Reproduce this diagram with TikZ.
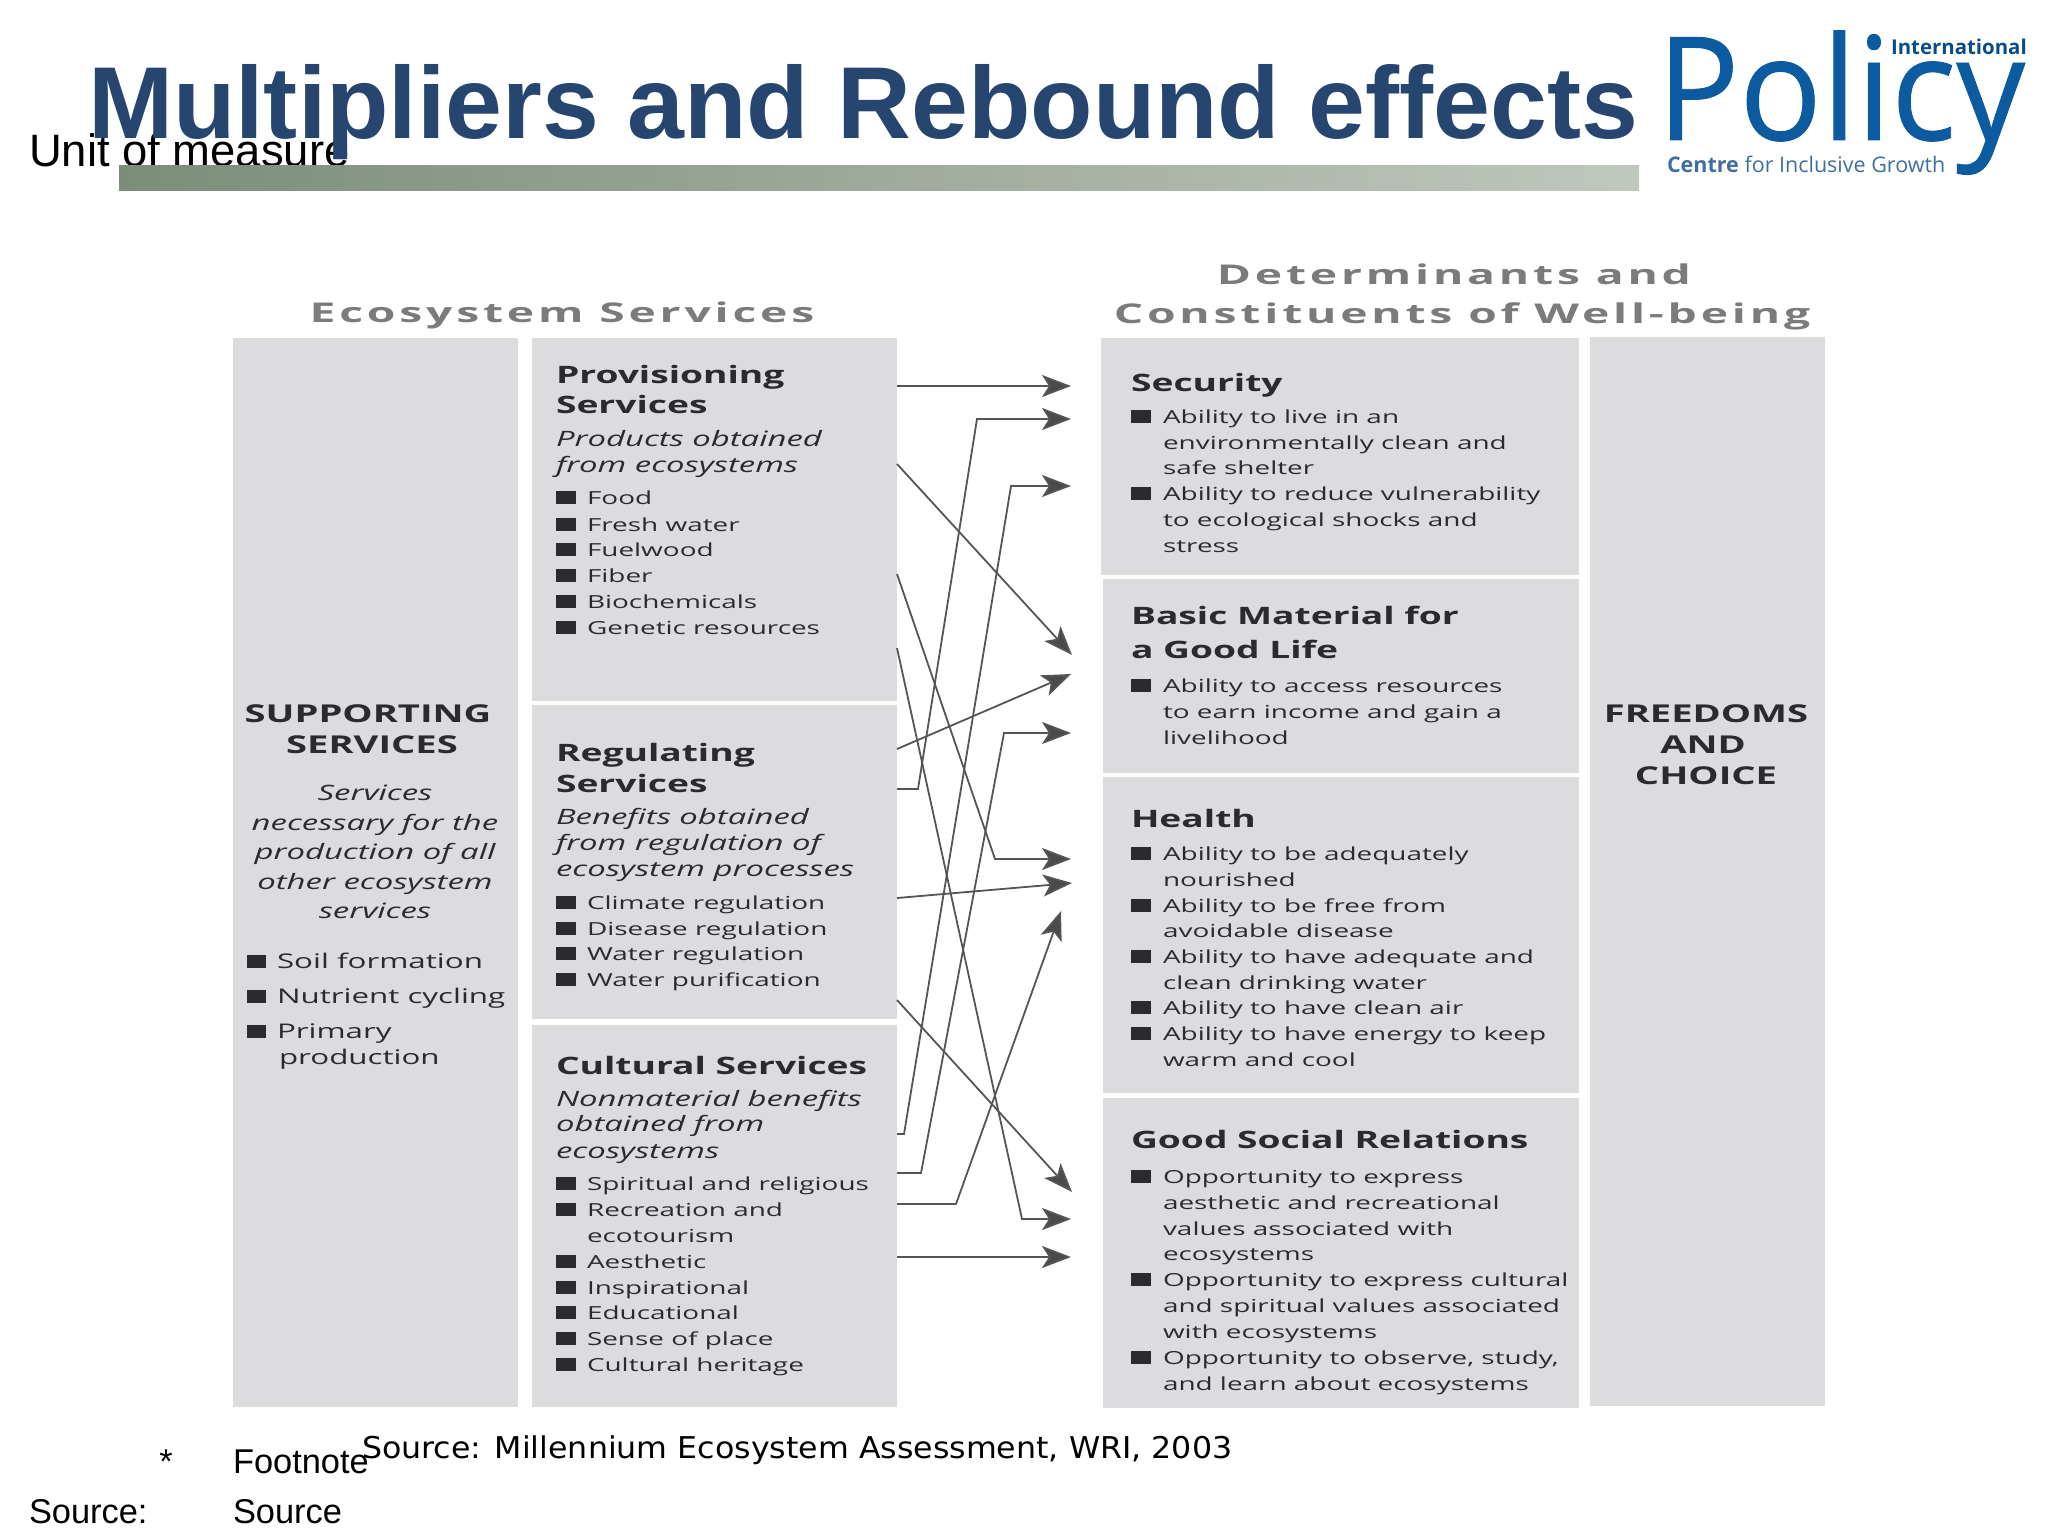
\documentclass[tikz,border=0pt]{standalone}
\usepackage{fontspec}
\usetikzlibrary{arrows.meta}
\setmainfont{Liberation Sans}
\newfontfamily\bodyf[FakeStretch=1.55]{Open Sans}
\newfontfamily\headf[FakeStretch=1.7,LetterSpace=14]{Open Sans}
\newfontfamily\dejaf[FakeStretch=1.055]{DejaVu Sans}
\newfontfamily\logof{Open Sans}
\newfontfamily\logog[FakeStretch=0.95,FakeBold=0.6]{Open Sans}
\definecolor{panelc}{HTML}{DCDCDE}
\definecolor{titlec}{HTML}{27466F}
\definecolor{inkc}{HTML}{2B2B2D}
\definecolor{linec}{HTML}{555557}
\definecolor{tipc}{HTML}{4A4A4C}
\definecolor{headc}{HTML}{7B7B7D}
\definecolor{logoc}{HTML}{0C5AA0}
\definecolor{logob}{HTML}{3F6F9F}
\definecolor{barl}{HTML}{7C8D7A}
\definecolor{barr}{HTML}{C0C7BC}
\tikzset{
 x=0.5pt,y=-0.5pt,
 every node/.style={inner sep=0pt,outer sep=0pt},
 panel/.style={fill=panelc,anchor=north west},
 txt/.style={anchor=base west,text=inkc,font=\bodyf\fontsize{9}{9}\selectfont},
 txtb/.style={txt,font=\bodyf\bfseries\fontsize{12}{12}\selectfont},
 txti/.style={txt,font=\bodyf\itshape\fontsize{10.6}{10.6}\selectfont},
 txtbig/.style={txt,font=\bodyf\fontsize{10.1}{10.1}\selectfont},
 ctrb/.style={txtb,anchor=base,font=\bodyf\bfseries\fontsize{12.3}{12.3}\selectfont},
 ctri/.style={txti,anchor=base},
 head/.style={anchor=base,text=headc,font=\headf\bfseries\fontsize{13.6}{13.6}\selectfont},
 plain/.style={anchor=base west,text=black,font=\fontsize{17.2}{17.2}\selectfont},
 conn/.style={draw=linec,line width=0.9pt,-{Stealth[length=14.5pt,width=11pt,inset=3.5pt,fill=tipc]}},
}
\newcounter{tn}
\newcommand\tl[4]{\stepcounter{tn}\node[#1] (t\arabic{tn}) at (#2,#3) {#4};}
\newcommand\bl[4]{\stepcounter{tn}\node[fill=inkc,minimum width=10pt,minimum height=6.5pt,anchor=south west] (b\arabic{tn}) at (#1,#3) {};\node[txt] (t\arabic{tn}) at (#2,#3) {#4};}
\newcommand\blb[4]{\stepcounter{tn}\node[fill=inkc,minimum width=9.5pt,minimum height=6.5pt,anchor=south west] (b\arabic{tn}) at (#1,#3) {};\node[txtbig] (t\arabic{tn}) at (#2,#3) {#4};}
\newcommand\pn[5]{\node[panel,minimum width={(#4-#2)*0.5pt},minimum height={(#5-#3)*0.5pt}] (#1) at (#2,#3) {};}
\begin{document}
\begin{tikzpicture}
\useasboundingbox (0,0) rectangle (2048,1536);
% header
\node[plain,font=\fontsize{22.7}{22.7}\selectfont] (unit) at (29,166) {Unit of measure};
\shade[left color=barl,right color=barr] (119,165) rectangle (1639,190.5);
\node[anchor=base west,text=titlec,font=\bfseries\fontsize{51.1}{51.1}\selectfont] (title) at (88,138) {Multipliers and Rebound effects};
% logo
\node[anchor=base west,text=logoc,font=\logog\fontsize{72}{72}\selectfont] (policy) at (1657,140) {Policy};
\node[anchor=base west,text=logoc!85!black,font=\logof\bfseries\fontsize{10.2}{10.2}\selectfont] (intl) at (1891,55) {International};
\node[anchor=base west,text=logob,font=\logof\fontsize{10.75}{10.75}\selectfont] (ctr) at (1667,172) {\textbf{Centre} for Inclusive Growth};
% headings
\node[head] (hl) at (562,322) {Ecosystem Services};
\node[head] (hr1) at (1454,284) {Determinants and};
\node[head] (hr2) at (1462,323) {Constituents of Well-being};
% panels
\pn{supp}{233}{338}{518}{1407}
\pn{prov}{532}{338}{897}{701}
\pn{regu}{532}{705}{897}{1019}
\pn{cult}{532}{1025}{897}{1407}
\pn{secu}{1101}{338}{1579}{575}
\pn{basi}{1103}{579}{1579}{773}
\pn{heal}{1103}{777}{1579}{1093}
\pn{soci}{1103}{1098}{1579}{1408}
\pn{free}{1590}{337}{1825}{1406}
% supporting
\tl{ctrb}{368}{722}{SUPPORTING}
\tl{ctrb}{372}{753}{SERVICES}
\tl{ctri}{375}{800}{Services}
\tl{ctri}{375}{830}{necessary for the}
\tl{ctri}{375}{859}{production of all}
\tl{ctri}{375}{889}{other ecosystem}
\tl{ctri}{375}{918}{services}
\blb{247}{277}{968}{Soil formation}
\blb{247}{277}{1003}{Nutrient cycling}
\blb{247}{277}{1038}{Primary}
\tl{txtbig}{279}{1064}{production}
% provisioning
\tl{txtb}{556}{383}{Provisioning}
\tl{txtb}{556}{413}{Services}
\tl{txti}{556}{446}{Products obtained}
\tl{txti}{556}{472}{from ecosystems}
\bl{556}{587}{504}{Food}
\bl{556}{587}{531}{Fresh water}
\bl{556}{587}{556}{Fuelwood}
\bl{556}{587}{582}{Fiber}
\bl{556}{587}{608}{Biochemicals}
\bl{556}{587}{634}{Genetic resources}
% regulating
\tl{txtb}{556}{761}{Regulating}
\tl{txtb}{556}{792}{Services}
\tl{txti}{556}{824}{Benefits obtained}
\tl{txti}{556}{850}{from regulation of}
\tl{txti}{556}{876}{ecosystem processes}
\bl{556}{587}{909}{Climate regulation}
\bl{556}{587}{935}{Disease regulation}
\bl{556}{587}{960}{Water regulation}
\bl{556}{587}{986}{Water purification}
% cultural
\tl{txtb}{556}{1074}{Cultural Services}
\tl{txti}{556}{1106}{Nonmaterial benefits}
\tl{txti}{556}{1131}{obtained from}
\tl{txti}{556}{1158}{ecosystems}
\bl{556}{587}{1190}{Spiritual and religious}
\bl{556}{587}{1216}{Recreation and}
\tl{txt}{587}{1242}{ecotourism}
\bl{556}{587}{1268}{Aesthetic}
\bl{556}{587}{1294}{Inspirational}
\bl{556}{587}{1319}{Educational}
\bl{556}{587}{1345}{Sense of place}
\bl{556}{587}{1371}{Cultural heritage}
% security
\tl{txtb}{1131}{391}{Security}
\bl{1131}{1163}{423}{Ability to live in an}
\tl{txt}{1163}{449}{environmentally clean and}
\tl{txt}{1163}{474}{safe shelter}
\bl{1131}{1163}{500}{Ability to reduce vulnerability}
\tl{txt}{1163}{526}{to ecological shocks and}
\tl{txt}{1163}{552}{stress}
% basic
\tl{txtb}{1131}{624}{Basic Material for}
\tl{txtb}{1131}{658}{a Good Life}
\bl{1131}{1163}{692}{Ability to access resources}
\tl{txt}{1163}{718}{to earn income and gain a}
\tl{txt}{1163}{744}{livelihood}
% health
\tl{txtb}{1131}{827}{Health}
\bl{1131}{1163}{860}{Ability to be adequately}
\tl{txt}{1163}{886}{nourished}
\bl{1131}{1163}{912}{Ability to be free from}
\tl{txt}{1163}{937}{avoidable disease}
\bl{1131}{1163}{963}{Ability to have adequate and}
\tl{txt}{1163}{989}{clean drinking water}
\bl{1131}{1163}{1014}{Ability to have clean air}
\bl{1131}{1163}{1040}{Ability to have energy to keep}
\tl{txt}{1163}{1066}{warm and cool}
% social
\tl{txtb}{1131}{1148}{Good Social Relations}
\bl{1131}{1163}{1183}{Opportunity to express}
\tl{txt}{1163}{1209}{aesthetic and recreational}
\tl{txt}{1163}{1235}{values associated with}
\tl{txt}{1163}{1260}{ecosystems}
\bl{1131}{1163}{1286}{Opportunity to express cultural}
\tl{txt}{1163}{1312}{and spiritual values associated}
\tl{txt}{1163}{1338}{with ecosystems}
\bl{1131}{1163}{1364}{Opportunity to observe, study,}
\tl{txt}{1163}{1390}{and learn about ecosystems}
% freedoms
\tl{ctrb}{1706}{722}{FREEDOMS}
\tl{ctrb}{1703}{753}{AND}
\tl{ctrb}{1706}{784}{CHOICE}
% connector ends
\coordinate (e1) at (1071,386);
\coordinate (e2) at (1071,419);
\coordinate (e3) at (1071,486);
\coordinate (e4) at (1072,655);
\coordinate (e5) at (1071,674);
\coordinate (e6) at (1071,733);
\coordinate (e7) at (1071,859);
\coordinate (e8) at (1072,883);
\coordinate (e9) at (1061,911);
\coordinate (e10) at (1072,1192);
\coordinate (e11) at (1071,1219);
\coordinate (e12) at (1071,1257);
\coordinate (k2a) at (918,789);  \coordinate (k2b) at (977,419);
\coordinate (k3a) at (904,1134); \coordinate (k3b) at (1011,486);
\coordinate (k6a) at (921,1173); \coordinate (k6b) at (1004,733);
\coordinate (k7)  at (995,859);
\coordinate (k9)  at (956,1204);
\coordinate (k11) at (1022,1219);
\coordinate (s4)  at (897,464);
\coordinate (s7)  at (897,574);
\coordinate (s11) at (897,648);
\coordinate (s5)  at (897,749);
\coordinate (s8)  at (897,898);
\coordinate (s10) at (897,1000);
% connectors
\draw[conn] (prov.east |- e1) -- (e1);
\draw[conn] (regu.east |- k2a) -- (k2a) -- (k2b) -- (e2);
\draw[conn] (cult.east |- k3a) -- (k3a) -- (k3b) -- (e3);
\draw[conn] (prov.east |- s4) -- (e4);
\draw[conn] (regu.east |- s5) -- (e5);
\draw[conn] (cult.east |- k6a) -- (k6a) -- (k6b) -- (e6);
\draw[conn] (prov.east |- s7) -- (k7) -- (e7);
\draw[conn] (regu.east |- s8) -- (e8);
\draw[conn] (cult.east |- k9) -- (k9) -- (e9);
\draw[conn] (regu.east |- s10) -- (e10);
\draw[conn] (prov.east |- s11) -- (k11) -- (e11);
\draw[conn] (cult.east |- e12) -- (e12);
% footer
\node[anchor=base west,text=black,font=\dejaf\fontsize{15}{15}\selectfont] (src) at (362,1458) {Source: Millennium Ecosystem Assessment, WRI, 2003};
\node[anchor=base,text=black,font=\fontsize{17.2}{17.2}\selectfont] (star) at (166,1473) {*};
\node[plain] (fn) at (233,1473) {Footnote};
\node[plain] (sl) at (29,1523) {Source:};
\node[plain] (sv) at (233,1523) {Source};
\end{tikzpicture}
\end{document}
